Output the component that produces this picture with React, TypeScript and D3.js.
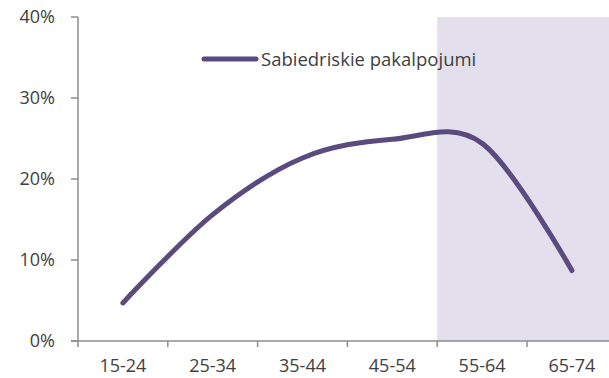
import { useEffect, useRef } from "react";
import * as d3 from "d3";

const categories = ["15-24", "25-34", "35-44", "45-54", "55-64", "65-74"];
const values = [4.7, 15.6, 22.6, 24.9, 24.4, 8.7];
const yTicks = [0, 10, 20, 30, 40];
const seriesName = "Sabiedriskie pakalpojumi";
const shadedFrom = "55-64";

const FONT = "'Open Sans', 'Noto Sans', sans-serif";

function Chart() {
  const ref = useRef<SVGSVGElement>(null);

  useEffect(() => {
    const el = ref.current;
    if (!el) return;
    const W = 609, H = 378;
    const M = { top: 17, left: 78, bottom: 341 };
    const band = 89.8;
    const svg = d3.select(el).attr("width", W).attr("height", H).attr("viewBox", `0 0 ${W} ${H}`);
    svg.selectAll("*").remove();

    const x = d3.scaleBand<string>().domain(categories).range([M.left, M.left + band * categories.length]);
    const y = d3.scaleLinear().domain([0, 40]).range([M.bottom, M.top]);

    // shaded region
    const sx = x(shadedFrom) ?? 0;
    svg.append("rect").attr("x", sx).attr("y", y(40)).attr("width", W - sx).attr("height", y(0) - y(40)).attr("fill", "#E4DFEC");

    // y axis
    const axisCol = "#8C8C8C";
    svg.append("line").attr("x1", M.left).attr("x2", M.left).attr("y1", y(40)).attr("y2", y(0) + 6).attr("stroke", axisCol).attr("stroke-width", 1.5);
    yTicks.forEach((t) => {
      svg.append("line").attr("x1", M.left - 7).attr("x2", M.left).attr("y1", y(t)).attr("y2", y(t)).attr("stroke", axisCol).attr("stroke-width", 1.5);
      svg.append("text").attr("x", 55).attr("y", y(t)).attr("dy", "0.36em").attr("text-anchor", "end")
        .attr("fill", "#404040").attr("font-size", 18).attr("font-family", FONT).text(`${t}%`);
    });

    // x axis
    svg.append("line").attr("x1", M.left - 7).attr("x2", W).attr("y1", y(0)).attr("y2", y(0)).attr("stroke", axisCol).attr("stroke-width", 1.5);
    categories.forEach((c) => {
      const bx = x(c) ?? 0;
      svg.append("line").attr("x1", bx + band).attr("x2", bx + band).attr("y1", y(0)).attr("y2", y(0) + 6).attr("stroke", axisCol).attr("stroke-width", 1.5);
      svg.append("text").attr("x", bx + band / 2).attr("y", 372).attr("text-anchor", "middle")
        .attr("fill", "#404040").attr("font-size", 18).attr("font-family", FONT).text(c);
    });

    // series
    const line = d3.line<number>().x((_d, i) => (x(categories[i]) ?? 0) + band / 2).y((d) => y(d)).curve(d3.curveCardinal.tension(0));
    svg.append("path").datum(values).attr("fill", "none").attr("stroke", "#5B4A7E").attr("stroke-width", 5)
      .attr("stroke-linecap", "round").attr("d", line);

    // legend
    svg.append("line").attr("x1", 204).attr("x2", 256).attr("y1", 59).attr("y2", 59).attr("stroke", "#5B4A7E").attr("stroke-width", 5).attr("stroke-linecap", "round");
    svg.append("text").attr("x", 261).attr("y", 66).attr("fill", "#404040").attr("font-size", 18.5).attr("font-family", FONT).text(seriesName);
  }, []);

  return <svg ref={ref} role="img" aria-label="Sabiedriskie pakalpojumi by age group" />;
}

export default function App() {
  return (
    <div style={{ position: "fixed", left: 0, top: 0, width: 609, height: 378, background: "#fff" }}>
      <Chart />
    </div>
  );
}
